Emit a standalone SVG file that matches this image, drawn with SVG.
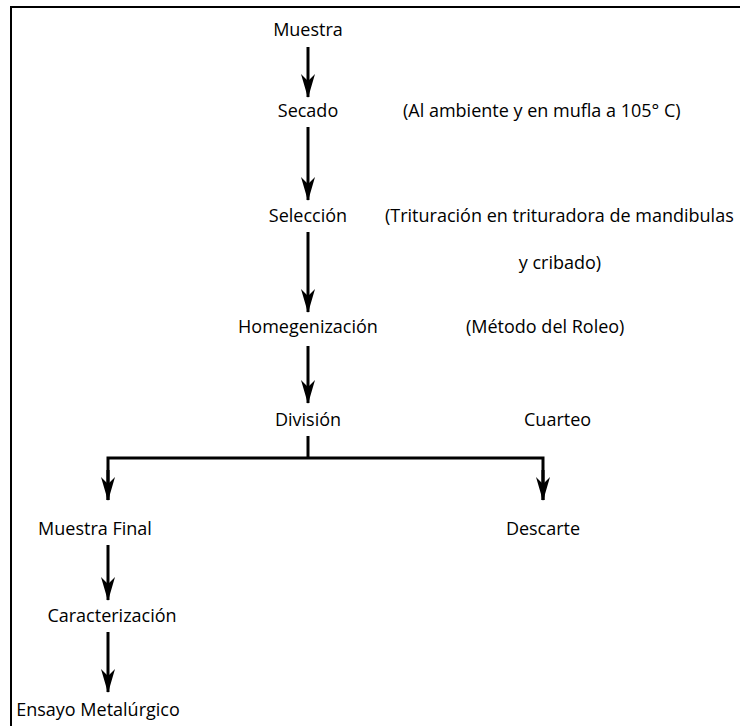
<svg xmlns="http://www.w3.org/2000/svg" width="740" height="726" viewBox="0 0 740 726">
  <style>
    text { font-family: "Open Sans", "Liberation Sans", sans-serif; font-size: 18px; fill: #000; }
    .c { text-anchor: middle; }
    .conn { stroke: #000; stroke-width: 3; fill: none; }
    .frame { stroke: #000; stroke-width: 2; fill: none; }
  </style>
  <defs>
    <marker id="head" markerUnits="userSpaceOnUse" markerWidth="24" markerHeight="16" refX="23" refY="8" orient="auto" viewBox="0 0 24 16">
      <path d="M0,1 L24,8 L0,15 L7,8 Z" fill="#000"/>
    </marker>
  </defs>
  <rect width="740" height="726" fill="#fff"/>
  <!-- outer frame: top and left edges only -->
  <path class="frame" d="M11,726 V7 H740"/>

  <g id="connectors">
    <line class="conn" x1="308" y1="47" x2="308" y2="97" marker-end="url(#head)"/>
    <line class="conn" x1="308" y1="127" x2="308" y2="200" marker-end="url(#head)"/>
    <line class="conn" x1="308" y1="232" x2="308" y2="312" marker-end="url(#head)"/>
    <line class="conn" x1="308" y1="346" x2="308" y2="403" marker-end="url(#head)"/>
    <path class="conn" d="M308,436 V458"/>
    <path class="conn" d="M108,500 V458 H543 V500" />
    <line class="conn" x1="108" y1="470" x2="108" y2="500" marker-end="url(#head)"/>
    <line class="conn" x1="543" y1="470" x2="543" y2="500" marker-end="url(#head)"/>
    <line class="conn" x1="108" y1="545" x2="108" y2="600" marker-end="url(#head)"/>
    <line class="conn" x1="108" y1="632" x2="108" y2="692" marker-end="url(#head)"/>
  </g>

  <g id="muestra"><text class="c" x="308" y="36">Muestra</text></g>
  <g id="secado"><text class="c" x="308" y="117">Secado</text></g>
  <g id="secado-nota"><text x="403" y="117">(Al ambiente y en mufla a 105° C)</text></g>
  <g id="seleccion"><text class="c" x="308" y="222">Selección</text></g>
  <g id="seleccion-nota">
    <text x="385" y="222">(Trituración en trituradora de mandibulas</text>
    <text class="c" x="560" y="269">y cribado)</text>
  </g>
  <g id="homegenizacion"><text class="c" x="308" y="333">Homegenización</text></g>
  <g id="homegenizacion-nota"><text x="466" y="333">(Método del Roleo)</text></g>
  <g id="division"><text class="c" x="308" y="426">División</text></g>
  <g id="division-nota"><text x="524" y="426">Cuarteo</text></g>
  <g id="muestra-final"><text class="c" x="95" y="535">Muestra Final</text></g>
  <g id="descarte"><text class="c" x="543" y="535">Descarte</text></g>
  <g id="caracterizacion"><text class="c" x="112" y="622">Caracterización</text></g>
  <g id="ensayo"><text class="c" x="98" y="716">Ensayo Metalúrgico</text></g>
</svg>
